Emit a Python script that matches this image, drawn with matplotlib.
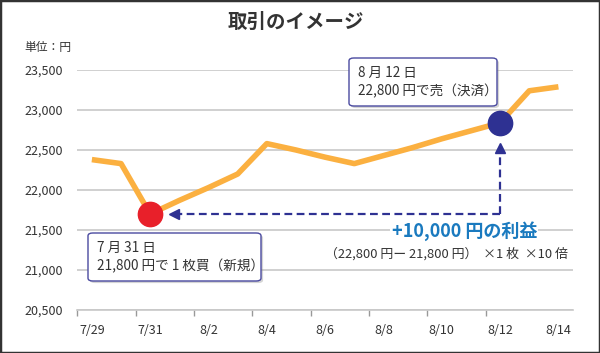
import matplotlib
matplotlib.use("Agg")
import matplotlib.pyplot as plt
from matplotlib.patches import FancyBboxPatch, Rectangle
import matplotlib.patheffects as pe

plt.rcParams['font.family'] = ['Noto Sans CJK JP', 'DejaVu Sans']

# data
dates = ['7/29', '7/30', '7/31', '8/1', '8/2', '8/3', '8/4', '8/5', '8/6',
         '8/7', '8/8', '8/9', '8/10', '8/11', '8/12', '8/13', '8/14']
prices = [22380, 22330, 21700, 21870, 22030, 22200, 22580, 22500, 22410,
          22330, 22430, 22530, 22640, 22740, 22840, 23240, 23290]
yticks = [20500, 21000, 21500, 22000, 22500, 23000, 23500]
buy_idx = 2   # 7/31
sell_idx = 14  # 8/12

orange = '#fbb040'
navy = '#2e3192'
txt = '#333333'

fig = plt.figure(figsize=(6.0, 3.53), dpi=100)
ax = fig.add_axes([77.3 / 600, 1 - 310 / 353, (573 - 77.3) / 600, 240 / 353])

x = list(range(len(dates)))
ax.plot(x, prices, color=orange, lw=4, solid_capstyle='butt', zorder=3)

# buy / sell points
ax.plot(buy_idx, prices[buy_idx], 'o', ms=17.5, color='#e8202a', zorder=5)
ax.plot(sell_idx, prices[sell_idx], 'o', ms=17.5, color=navy, zorder=5)

# dashed arrows
head_x = buy_idx + 0.8
head_y = prices[sell_idx] - 320
ax.plot([sell_idx, head_x], [prices[buy_idx]] * 2, color=navy, lw=1.6,
        ls=(0, (3.5, 2)), zorder=4)
ax.plot([sell_idx, sell_idx], [prices[buy_idx], head_y], color=navy, lw=1.6,
        ls=(0, (3.5, 2)), zorder=4)
ax.plot(head_x, prices[buy_idx], marker='<', ms=7, color=navy, zorder=4)
ax.plot(sell_idx, head_y, marker='^', ms=7, color=navy, zorder=4)

ax.set_xlim(-0.5, len(dates) - 0.5)
ax.set_ylim(20500, 23500)
ax.set_yticks(yticks)
ax.set_yticklabels([f'{v:,}' for v in yticks])
ax.grid(axis='y', color='#c8c8c8', lw=1.2)
ax.set_axisbelow(True)
for s in ['top', 'right', 'left']:
    ax.spines[s].set_visible(False)
ax.spines['bottom'].set_color('#c8c8c8')
ax.spines['bottom'].set_linewidth(1.2)

# ticks on category boundaries, labels on every other category
ax.set_xticks([i - 0.5 for i in range(0, len(dates) - 1, 2)])
ax.set_xticklabels([])
ax.set_xticks(range(0, len(dates), 2), minor=True)
ax.set_xticklabels(dates[::2], minor=True)
ax.tick_params(axis='x', which='major', length=4, color='#999999', width=1)
ax.tick_params(axis='x', which='minor', length=0, pad=10, labelsize=9,
               labelcolor=txt)
ax.tick_params(axis='y', length=0, pad=10, labelsize=9, labelcolor=txt)

# titles
fig.text(0.494, 1 - 22 / 353, '取引のイメージ', ha='center', va='center',
         fontsize=14, fontweight='bold', color=txt)
fig.text(24 / 600, 1 - 48 / 353, '単位：円', ha='left', va='center',
         fontsize=8.5, color=txt)


def callout(x0, y0, w, h, lines):
    box = FancyBboxPatch((x0 / 600, 1 - (y0 + h) / 353), w / 600, h / 353,
                         boxstyle='round,pad=0,rounding_size=0.008',
                         transform=fig.transFigure, facecolor='white',
                         edgecolor='#4a4aa0', lw=1.0, zorder=10)
    box.set_path_effects([pe.SimplePatchShadow(offset=(1.5, -1.5),
                                               shadow_rgbFace='#888888',
                                               alpha=0.35), pe.Normal()])
    fig.add_artist(box)
    fig.text((x0 + 9) / 600, 1 - (y0 + h / 2) / 353, '\n'.join(lines),
             ha='left', va='center', fontsize=9.8, color=txt,
             linespacing=1.3, zorder=11)


callout(349, 58, 148, 48, ['8 月 12 日', '22,800 円で売（決済）'])
callout(88, 233, 173, 48, ['7 月 31 日', '21,800 円で 1 枚買（新規）'])

fig.text(537 / 600, 1 - 231 / 353, '+10,000 円の利益', ha='right',
         va='center', fontsize=13, fontweight='bold', color='#1a7abf',
         bbox=dict(facecolor='white', edgecolor='none', pad=1))
fig.text(568 / 600, 1 - 254 / 353, '（22,800 円ー 21,800 円）  ×1 枚  ×10 倍',
         ha='right', va='center', fontsize=9.3, color=txt)

# outer frame
fig.add_artist(Rectangle((0, 0), 1, 1, transform=fig.transFigure,
                         fill=False, edgecolor='#333333', lw=2.5))

fig.savefig('out.png', dpi=100)
